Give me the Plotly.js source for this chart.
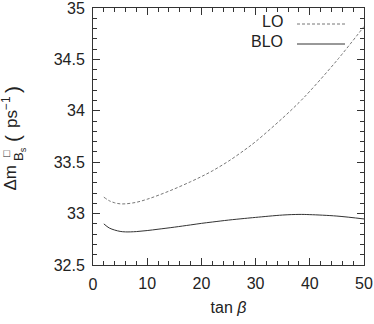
<!DOCTYPE html>
<html><head><meta charset="utf-8">
<script src="https://cdn.plot.ly/plotly-3.0.1.min.js"></script>
<style>
body{margin:0;background:#fff}
#wrap{position:relative;width:374px;height:324px}
#c{width:374px;height:324px}
#x0{position:absolute;z-index:10;font-family:"Liberation Sans",Arial,sans-serif;font-size:16px;line-height:16px;color:#222;transform:translate(-50%,-50%);white-space:nowrap}
</style>
</head><body><div id="wrap"><div id="c"></div><div id="x0"></div></div>
<script>
const tanBeta = [2, 3, 4, 5, 6, 8, 10, 12, 15, 18, 20, 22, 25, 28, 30, 35, 38, 40, 45, 50];
const deltaM_LO = [33.16, 33.125, 33.105, 33.095, 33.095, 33.11, 33.14, 33.177, 33.24, 33.31, 33.36, 33.415, 33.51, 33.62, 33.70, 33.93, 34.08, 34.19, 34.49, 34.82];
const deltaM_BLO = [32.90, 32.86, 32.84, 32.827, 32.822, 32.825, 32.835, 32.848, 32.868, 32.89, 32.905, 32.918, 32.937, 32.953, 32.963, 32.986, 32.992, 32.99, 32.976, 32.948];
const seriesNames = ["LO", "BLO"];
const xTicks = [0, 10, 20, 30, 40, 50];
const xMinorTicks = [2, 4, 6, 8, 12, 14, 16, 18, 22, 24, 26, 28, 32, 34, 36, 38, 42, 44, 46, 48];
const yTicks = [32.5, 33, 33.5, 34, 34.5, 35];

const font = "Liberation Sans, Arial, sans-serif";
const txt = "#222";
const axisCommon = {
  showline: true, mirror: "ticks", linecolor: "#333", linewidth: 1,
  ticks: "inside", ticklen: 7, tickcolor: "#333", tickwidth: 1,
  showgrid: false, zeroline: false, tickmode: "array",
  tickfont: {family: font, size: 16, color: txt}, ticklabelstandoff: 4,
  ticklabeloverflow: "allow"
};
const data = [
  {x: tanBeta, y: deltaM_LO, name: seriesNames[0], mode: "lines", line: {color: "#777", width: 1, dash: "3px,2px", shape: "spline"}, showlegend: false},
  {x: tanBeta, y: deltaM_BLO, name: seriesNames[1], mode: "lines", line: {color: "#333", width: 1, shape: "spline"}, showlegend: false}
];
// pixel helpers for paper-positioned text (plot area: l=93, r=364, t=8, b=265)
const px = v => (v - 93) / 271, py = v => (265 - v) / 257;
const rot = (text, x, y, size) => ({xref: "paper", yref: "paper", x: px(x), y: py(y), xanchor: "center", yanchor: "middle",
  text: text, textangle: -90, showarrow: false, font: {family: font, size: size, color: txt}});
const layout = {
  width: 374, height: 324,
  margin: {l: 93, r: 10, t: 8, b: 59},
  paper_bgcolor: "#fff", plot_bgcolor: "#fff",
  xaxis: Object.assign({}, axisCommon, {range: [0, 50], tickvals: xTicks.slice(1),
    minor: {tickvals: xMinorTicks, ticks: "inside", ticklen: 4, tickcolor: "#333", showgrid: false},
    title: {text: "tan <i>β</i>", font: {family: font, size: 16, color: txt}, standoff: 10}}),
  yaxis: Object.assign({}, axisCommon, {range: [32.5, 35], tickvals: yTicks,
    minor: {dtick: 0.1, ticks: "inside", ticklen: 4, tickcolor: "#333", showgrid: false}}),
  annotations: [
    {xref: "paper", yref: "paper", x: px(285), y: py(21.5), xanchor: "right", yanchor: "middle", text: seriesNames[0], showarrow: false, font: {family: font, size: 16, color: txt}},
    {xref: "paper", yref: "paper", x: px(285), y: py(41.5), xanchor: "right", yanchor: "middle", text: seriesNames[1], showarrow: false, font: {family: font, size: 16, color: txt}},
    rot("Δm", 10, 177.5, 17),
    rot("□", 6, 154, 11),
    rot("B<sub>s</sub>", 19, 154, 13),
    rot("(", 12, 139, 21),
    rot("ps<sup>−1</sup>", 10, 112, 17),
    rot(")", 12, 90, 21)
  ],
  shapes: [
    {type: "line", xref: "paper", yref: "paper", x0: px(297), x1: px(345), y0: py(24), y1: py(24), line: {color: "#777", width: 1, dash: "3px,2px"}},
    {type: "line", xref: "paper", yref: "paper", x0: px(297), x1: px(345), y0: py(44), y1: py(44), line: {color: "#333", width: 1}}
  ]
};
Plotly.newPlot("c", data, layout, {staticPlot: true, displayModeBar: false}).then(gd => {
  // first x tick label, positioned through Plotly's own x scale
  const fl = gd._fullLayout, xa = fl.xaxis;
  const lab = document.getElementById("x0");
  lab.textContent = String(xTicks[0]);
  lab.style.left = (fl.margin.l + xa.l2p(xTicks[0])) + "px";
  lab.style.top = "285px";
});
</script></body></html>
